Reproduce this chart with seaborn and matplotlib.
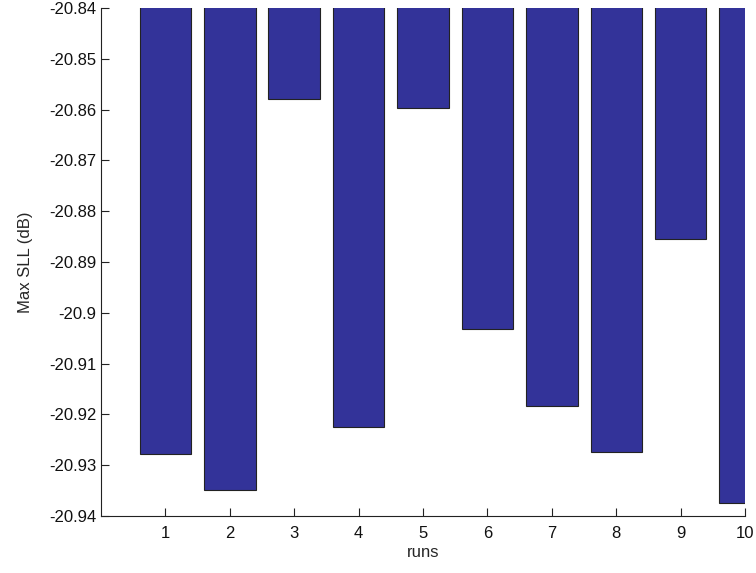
import matplotlib
matplotlib.use("Agg")
import matplotlib.pyplot as plt
from matplotlib.ticker import FuncFormatter
import seaborn as sns
import pandas as pd

runs = [1, 2, 3, 4, 5, 6, 7, 8, 9, 10]
max_sll = [-20.9277, -20.9349, -20.8579, -20.9224, -20.8597,
           -20.9031, -20.9183, -20.9275, -20.8855, -20.9375]
y_ticks = [-20.94, -20.93, -20.92, -20.91, -20.90,
           -20.89, -20.88, -20.87, -20.86, -20.85, -20.84]

sns.set_style("ticks")
plt.rcParams["font.family"] = ["Liberation Sans", "DejaVu Sans"]

df = pd.DataFrame({"runs": runs, "sll": max_sll})

fig = plt.figure(figsize=(7.56, 5.73), dpi=100)
ax = fig.add_axes([0.1336, 0.0995, 0.852, 0.8865])

sns.barplot(data=df, x="runs", y="sll", native_scale=True, width=0.8,
            color="#333399", saturation=1, edgecolor="#222222",
            linewidth=0.8, ax=ax, errorbar=None)

ax.set_xlim(0, 10)
ax.set_ylim(-20.94, -20.84)
ax.set_xticks(runs)
ax.set_yticks(y_ticks)
ax.yaxis.set_major_formatter(FuncFormatter(lambda v, p: f"{v:.2f}".rstrip("0")))
ax.tick_params(direction="in", length=6, width=0.8, labelsize=12,
               colors="#222222", labelcolor="#111111")
ax.tick_params(axis="x", pad=7)
ax.tick_params(axis="y", pad=3.5)
ax.set_xlabel("runs", fontsize=12, labelpad=3)
ax.set_ylabel("Max SLL (dB)", fontsize=12, labelpad=11)

sns.despine(ax=ax, top=True, right=True)
for s in ["left", "bottom"]:
    ax.spines[s].set_color("#222222")
    ax.spines[s].set_linewidth(0.8)

fig.savefig("out.png", dpi=100)
